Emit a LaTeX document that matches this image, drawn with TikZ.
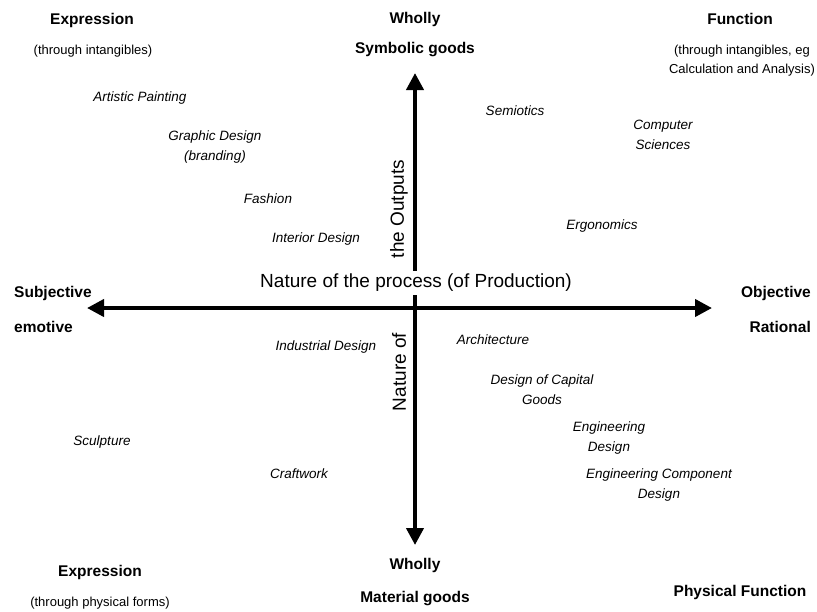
\documentclass[tikz,border=0pt]{standalone}
\usepackage{fontspec}
\setmainfont{Liberation Sans}
\usetikzlibrary{arrows.meta}

\begin{document}
\begin{tikzpicture}[x=1pt,y=-1pt,
  axis/.style={line width=4pt,{Triangle[length=17pt,width=17pt]}-{Triangle[length=17pt,width=17pt]}},
  head/.style={font=\fontsize{15.5}{18}\selectfont\bfseries,inner sep=1pt},
  sub/.style={font=\fontsize{13}{19}\selectfont,align=center,inner sep=1pt},
  field/.style={font=\fontsize{13.5}{20}\selectfont\itshape,align=center,inner sep=1pt},
  axlabel/.style={font=\fontsize{19}{22}\selectfont,inner sep=1pt}]
\useasboundingbox (0,0) rectangle (817,611);
% axes
\coordinate (west) at (87,308);
\coordinate (east) at (712,308);
\coordinate (north) at (415,73);
\coordinate (south) at (415,545);
\draw[axis] (west) -- (east);
\draw[axis] (north) -- (south);
\node[axlabel,fill=white,inner sep=3pt] (process) at (416,283) {Nature of the process (of Production)};
\node[axlabel,rotate=90] (outputs) at (399,209) {the Outputs};
\node[axlabel,rotate=90] (natureof) at (399,372) {Nature of};
% corners and ends
\node[head] (exprtop) at (92,20) {Expression};
\node[sub] (intang) at (93,51) {(through intangibles)};
\node[head] (whollytop) at (415,19) {Wholly};
\node[head] (symb) at (415,50) {Symbolic goods};
\node[head] (functop) at (740,19) {Function};
\node[sub] (calc) at (742,61) {(through intangibles, eg\\Calculation and Analysis)};
\node[head,anchor=west] (subj) at (13,293) {Subjective};
\node[head,anchor=west] (emot) at (13,327) {emotive};
\node[head,anchor=east] (obj) at (812,293) {Objective};
\node[head,anchor=east] (ratio) at (812,327) {Rational};
\node[head] (exprbot) at (100,572) {Expression};
\node[sub] (physforms) at (100,603) {(through physical forms)};
\node[head] (whollybot) at (415,565) {Wholly};
\node[head] (mater) at (415,599) {Material goods};
\node[head] (physfunc) at (740,592) {Physical Function};
% fields
\node[field] (painting) at (140,98) {Artistic Painting};
\node[field] (graphic) at (215,147.5) {Graphic Design\\(branding)};
\node[field] (fashion) at (268,199) {Fashion};
\node[field] (interior) at (316,239) {Interior Design};
\node[field] (semiotics) at (515,111) {Semiotics};
\node[field] (compsci) at (663,135) {Computer\\Sciences};
\node[field] (ergo) at (602,226) {Ergonomics};
\node[field] (industrial) at (326,347) {Industrial Design};
\node[field] (sculpture) at (102,442) {Sculpture};
\node[field] (craft) at (299,474) {Craftwork};
\node[field] (archi) at (493,340) {Architecture};
\node[field] (capital) at (542,390) {Design of Capital\\Goods};
\node[field] (engdes) at (609,438) {Engineering\\Design};
\node[field] (engcomp) at (659,485) {Engineering Component\\Design};
\end{tikzpicture}
\end{document}
